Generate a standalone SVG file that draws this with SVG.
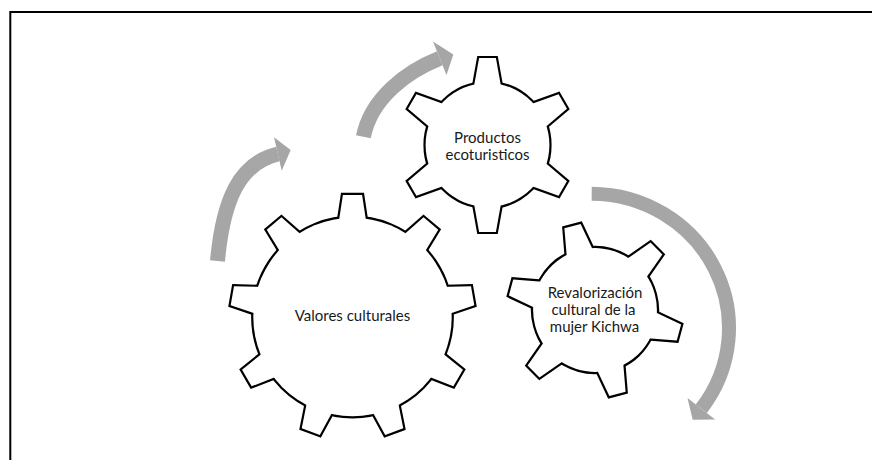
<svg xmlns="http://www.w3.org/2000/svg" width="872" height="460" viewBox="0 0 872 460">
  <style>
    .frame { fill: none; stroke: #000; stroke-width: 2; stroke-linejoin: miter; }
    .arrow-shaft { fill: none; stroke: #a6a6a6; stroke-width: 15; stroke-linecap: butt; }
    .arrow-head { fill: #a6a6a6; stroke: none; }
    /* gear outline: a wide stroke underneath, covered by the white face on top,
       so only the outer edge of the merged circle + teeth stays visible */
    .gear-edge { fill: #000; stroke: #000; stroke-width: 4.4; stroke-linejoin: miter; }
    .gear-face { fill: #fff; stroke: none; }
    .label { font-family: Lato, "Liberation Sans", sans-serif; font-size: 15px; fill: #1a1a1a; text-anchor: middle; }
  </style>

  <defs>
    <!-- one tooth pointing up, base sunk into the rim -->
    <polygon id="tooth-lg" points="-9.6,-122 9.6,-122 14.5,-90 -14.5,-90"/>
    <polygon id="tooth-sm" points="-8.4,-86.9 8.4,-86.9 14.7,-52 -14.7,-52"/>

    <!-- nine-tooth gear -->
    <g id="gear-lg">
      <circle r="99.2"/>
      <use href="#tooth-lg"/>
      <use href="#tooth-lg" transform="rotate(40)"/>
      <use href="#tooth-lg" transform="rotate(80)"/>
      <use href="#tooth-lg" transform="rotate(120)"/>
      <use href="#tooth-lg" transform="rotate(160)"/>
      <use href="#tooth-lg" transform="rotate(200)"/>
      <use href="#tooth-lg" transform="rotate(240)"/>
      <use href="#tooth-lg" transform="rotate(280)"/>
      <use href="#tooth-lg" transform="rotate(320)"/>
    </g>

    <!-- six-tooth gear -->
    <g id="gear-sm">
      <circle r="61.9"/>
      <use href="#tooth-sm"/>
      <use href="#tooth-sm" transform="rotate(60)"/>
      <use href="#tooth-sm" transform="rotate(120)"/>
      <use href="#tooth-sm" transform="rotate(180)"/>
      <use href="#tooth-sm" transform="rotate(240)"/>
      <use href="#tooth-sm" transform="rotate(300)"/>
    </g>
  </defs>

  <rect width="872" height="460" fill="#fff"/>

  <!-- frame: top and left rules -->
  <path class="frame" d="M10.3 460 V12 H872"/>

  <!-- curved arrows -->
  <g id="connectors">
    <g id="arrow-1">
      <path class="arrow-shaft" d="M217.5 261 C222.9 201 238.9 163 277.9 154"/>
      <polygon class="arrow-head" points="274,137.3 290.7,150 281.7,170.7"/>
    </g>
    <g id="arrow-2">
      <path class="arrow-shaft" d="M363.4 136.7 C371.2 97.5 407.3 71.4 439.8 58.3"/>
      <polygon class="arrow-head" points="433,41.5 453.3,54.5 446.5,75"/>
    </g>
    <g id="arrow-3">
      <path class="arrow-shaft" style="stroke-width:14" d="M591.7 193.7 A138 134.3 0 0 1 701.3 408.7"/>
      <polygon class="arrow-head" points="687.5,397.9 692.7,419.7 715.1,419.5"/>
    </g>
  </g>

  <!-- gears -->
  <g id="gear-valores">
    <use href="#gear-lg" class="gear-edge" transform="translate(352.5 317)"/>
    <use href="#gear-lg" class="gear-face" transform="translate(352.5 317)"/>
    <text class="label" x="352.5" y="321">Valores culturales</text>
  </g>

  <g id="gear-productos">
    <use href="#gear-sm" class="gear-edge" transform="translate(487.5 145)"/>
    <use href="#gear-sm" class="gear-face" transform="translate(487.5 145)"/>
    <text class="label" x="487.5" y="143.3">Productos</text>
    <text class="label" x="487.5" y="160">ecoturisticos</text>
  </g>

  <g id="gear-revalorizacion">
    <use href="#gear-sm" class="gear-edge" transform="translate(595 310) rotate(-15)"/>
    <use href="#gear-sm" class="gear-face" transform="translate(595 310) rotate(-15)"/>
    <text class="label" x="595" y="298.3">Revalorización</text>
    <text class="label" x="593.5" y="315">cultural de la</text>
    <text class="label" x="594.5" y="331.7">mujer Kichwa</text>
  </g>
</svg>
